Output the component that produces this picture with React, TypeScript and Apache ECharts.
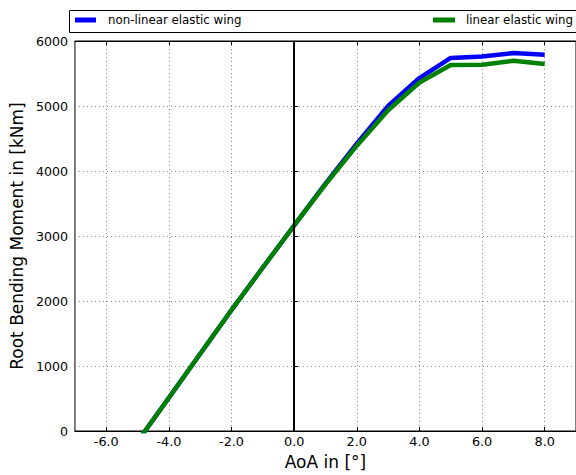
import React, { useEffect, useRef } from "react";
import * as echarts from "echarts";

const aoa = [-5, -4, -3, -2, -1, 0, 1, 2, 3, 4, 5, 6, 7, 8];
const nonLinear = [-160, 512, 1188, 1862, 2515, 3162, 3805, 4420, 5000, 5430, 5740, 5760, 5815, 5790];
const linear = [-160, 512, 1188, 1862, 2515, 3162, 3795, 4390, 4935, 5362, 5630, 5635, 5695, 5645];
const xTicks = [-6, -4, -2, 0, 2, 4, 6, 8];
const seriesNames = ["non-linear elastic wing", "linear elastic wing"];
const seriesColors = ["#0000ff", "#008000"];

const FONT = "DejaVu Sans";

export default function App() {
  const ref = useRef<HTMLDivElement>(null);
  useEffect(() => {
    if (!ref.current) return;
    const chart = echarts.init(ref.current, null, { renderer: "svg" });
    const gridLine = { show: true, lineStyle: { color: "#888", width: 1, type: [1, 3] as any } };
    const option: any = {
      animation: false,
      backgroundColor: "#fff",
      textStyle: { fontFamily: FONT },
      grid: { left: 70, top: 41, width: 507.5, height: 392.5, show: true, borderColor: "#000", borderWidth: 1 },
      graphic: [
        {
          type: "rect",
          shape: { x: 69.5, y: 10.5, width: 520, height: 22 },
          style: { fill: "#fff", stroke: "#000", lineWidth: 1 },
          z: 0,
        },
      ],
      legend: [
        {
          data: [seriesNames[0]],
          left: 75,
          top: 14,
          padding: 0,
          icon: "rect",
          itemWidth: 21,
          itemHeight: 5,
          textStyle: { fontFamily: FONT, fontSize: 11.8, color: "#000", padding: [0, 0, 0, 7] },
          z: 5,
        },
        {
          data: [seriesNames[1]],
          left: 433,
          top: 14,
          padding: 0,
          icon: "rect",
          itemWidth: 22,
          itemHeight: 5,
          textStyle: { fontFamily: FONT, fontSize: 11.8, color: "#000", padding: [0, 0, 0, 6] },
          z: 5,
        },
      ],
      xAxis: [
        {
          type: "value",
          min: -7,
          max: 9,
          name: "AoA in [°]",
          nameLocation: "middle",
          nameGap: 22,
          nameTextStyle: { fontFamily: FONT, fontSize: 17, color: "#000" },
          axisLine: { show: true, onZero: false, lineStyle: { color: "#000", width: 1 } },
          axisTick: { show: true, inside: true, length: 4, customValues: xTicks, lineStyle: { color: "#000" } },
          axisLabel: {
            customValues: xTicks,
            margin: 4,
            fontFamily: FONT,
            fontSize: 12.8,
            color: "#000",
            formatter: (v: number) => v.toFixed(1),
          },
          splitLine: gridLine,
        },
        {
          type: "value",
          position: "top",
          min: -7,
          max: 9,
          axisLine: { show: true, onZero: false, lineStyle: { color: "#000", width: 1 } },
          axisTick: { show: true, inside: true, length: 4, customValues: xTicks, lineStyle: { color: "#000" } },
          axisLabel: { show: false },
          splitLine: { show: false },
        },
      ],
      yAxis: {
        type: "value",
        min: 0,
        max: 6000,
        interval: 1000,
        name: "Root Bending Moment in [kNm]",
        nameLocation: "middle",
        nameGap: 42,
        nameTextStyle: { fontFamily: FONT, fontSize: 17, color: "#000" },
        axisLine: { show: true, lineStyle: { color: "#000", width: 1 } },
        axisTick: { show: true, inside: true, length: 4, lineStyle: { color: "#000" } },
        axisLabel: {
          margin: 7,
          fontFamily: FONT,
          fontSize: 12.6,
          color: "#000",
          formatter: (v: number) => String(v),
        },
        splitLine: gridLine,
      },
      series: [
        {
          name: seriesNames[0],
          type: "line",
          data: aoa.map((x, i) => [x, nonLinear[i]]),
          showSymbol: false,
          symbol: "none",
          color: seriesColors[0],
          lineStyle: { color: seriesColors[0], width: 4.5 },
          clip: true,
          z: 3,
          markLine: {
            silent: true,
            symbol: "none",
            label: { show: false },
            lineStyle: { color: "#000", width: 2, type: "solid" },
            data: [{ xAxis: 0 }],
          },
        },
        {
          name: seriesNames[1],
          type: "line",
          data: aoa.map((x, i) => [x, linear[i]]),
          showSymbol: false,
          symbol: "none",
          color: seriesColors[1],
          lineStyle: { color: seriesColors[1], width: 4.5 },
          clip: true,
          z: 4,
        },
      ],
    };
    chart.setOption(option);
    return () => chart.dispose();
  }, []);
  return (
    <div
      ref={ref}
      style={{ position: "fixed", left: 0, top: 0, width: 576, height: 475, background: "#fff" }}
    />
  );
}
